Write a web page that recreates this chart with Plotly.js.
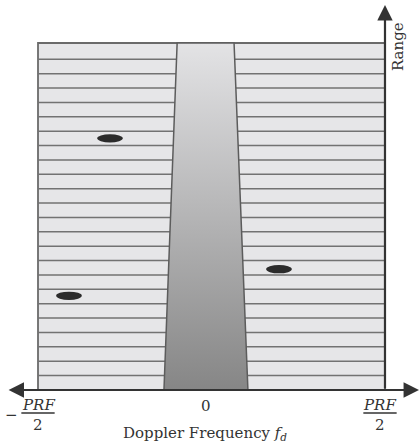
<!DOCTYPE html>
<html>
<head>
<meta charset="utf-8">
<script src="https://cdn.plot.ly/plotly-3.0.1.min.js"></script>
<style>html,body{margin:0;padding:0;background:#fff;}#chart{width:420px;height:444px;}</style>
</head>
<body>
<div id="chart"></div>
<script>
// Doppler frequency in units of PRF; range in range-bin units
const dopplerLimits = [-0.5, 0.5];
const rangeTop = 24.13;
const binEdges = [1, 2, 3, 4, 5, 6, 7, 8, 9, 10, 11, 12, 13, 14, 15, 16, 17, 18, 19, 20, 21, 22, 23];
const clutterDoppler = [-0.137, -0.099, 0.065, 0.105, -0.137];
const clutterRange = [0, 24.13, 24.13, 0, 0];
const targetDoppler = [-0.2925, 0.1945, -0.4107];
const targetRange = [17.5, 8.4, 6.55];
const tickValues = [-0.5, -0.016, 0.4856];
const tickLabels = ['PRF', '0', 'PRF'];

const textColor = '#333333';
const font = 'DejaVu Serif, Liberation Serif, serif';

// bin lines
const lx = [], ly = [];
binEdges.forEach(function (b) { lx.push(dopplerLimits[0], dopplerLimits[1], null); ly.push(b, b, null); });

const traces = [
  {x: lx, y: ly, mode: 'lines', line: {color: '#727272', width: 1.5}, hoverinfo: 'skip', showlegend: false},
  {x: clutterDoppler, y: clutterRange, mode: 'lines', fill: 'toself',
   fillgradient: {type: 'vertical', colorscale: [[0, '#868686'], [1, '#e3e3e5']]},
   line: {color: '#5c5c5c', width: 1.5}, hoverinfo: 'skip', showlegend: false}
];

const shapes = [
  {type: 'rect', xref: 'x', yref: 'y', x0: dopplerLimits[0], x1: dopplerLimits[1], y0: 0, y1: rangeTop,
   fillcolor: '#e6e6e8', line: {color: '#6a6a6a', width: 1.8}, layer: 'below'}
];
const ew = 0.037, eh = 0.29;
targetDoppler.forEach(function (d, i) {
  shapes.push({type: 'circle', xref: 'x', yref: 'y', x0: d - ew, x1: d + ew, y0: targetRange[i] - eh, y1: targetRange[i] + eh,
    fillcolor: '#2b2b2b', line: {width: 0}, layer: 'above'});
});
// fraction bars
[tickValues[0], tickValues[2]].forEach(function (v) {
  shapes.push({type: 'line', xref: 'x', yref: 'y', x0: v - 0.048, x1: v + 0.048, y0: -1.6, y1: -1.6,
    line: {color: textColor, width: 1.3}});
});

const annotations = [
  // horizontal double arrow
  {xref: 'x', yref: 'y', axref: 'x', ayref: 'y', x: 0.598, y: 0, ax: -0.589, ay: 0, text: '',
   showarrow: true, arrowhead: 2, startarrowhead: 2, arrowside: 'end+start', arrowwidth: 2.2, arrowsize: 1.4,
   startarrowsize: 1.4, arrowcolor: '#333333', standoff: 0, startstandoff: 0},
  // vertical arrow
  {xref: 'x', yref: 'y', axref: 'x', ayref: 'y', x: 0.5, y: 26.77, ax: 0.5, ay: 0, text: '',
   showarrow: true, arrowhead: 2, arrowwidth: 2.2, arrowsize: 1.4, arrowcolor: '#333333', standoff: 0},
  {xref: 'x', yref: 'y', x: tickValues[0], y: -1.02, text: '<i>' + tickLabels[0] + '</i>', showarrow: false,
   font: {family: font, size: 15, color: textColor}},
  {xref: 'x', yref: 'y', x: tickValues[0], y: -2.45, text: '2', showarrow: false,
   font: {family: font, size: 15, color: textColor}},
  {xref: 'x', yref: 'y', x: -0.575, y: -1.75, text: '−', showarrow: false,
   font: {family: font, size: 15, color: textColor}},
  {xref: 'x', yref: 'y', x: tickValues[1], y: -1.1, text: tickLabels[1], showarrow: false,
   font: {family: font, size: 15, color: textColor}},
  {xref: 'x', yref: 'y', x: tickValues[2], y: -1.02, text: '<i>' + tickLabels[2] + '</i>', showarrow: false,
   font: {family: font, size: 15, color: textColor}},
  {xref: 'x', yref: 'y', x: tickValues[2], y: -2.45, text: '2', showarrow: false,
   font: {family: font, size: 15, color: textColor}},
  {xref: 'x', yref: 'y', x: -0.0187, y: -3.05, text: 'Doppler Frequency <i>f</i><sub><i>d</i></sub>', showarrow: false,
   font: {family: font, size: 15, color: textColor}},
  {xref: 'x', yref: 'y', x: 0.5375, y: 23.85, text: 'Range', textangle: -90, showarrow: false,
   font: {family: font, size: 15, color: textColor}}
];

const layout = {
  width: 420, height: 444,
  margin: {l: 0, r: 0, t: 0, b: 0},
  paper_bgcolor: '#ffffff', plot_bgcolor: '#ffffff',
  xaxis: {range: [-0.6095, 0.6009], visible: false, fixedrange: true},
  yaxis: {range: [-3.755, 27.12], visible: false, fixedrange: true},
  shapes: shapes, annotations: annotations, showlegend: false
};

Plotly.newPlot('chart', traces, layout, {staticPlot: true, displayModeBar: false});
</script>
</body>
</html>
